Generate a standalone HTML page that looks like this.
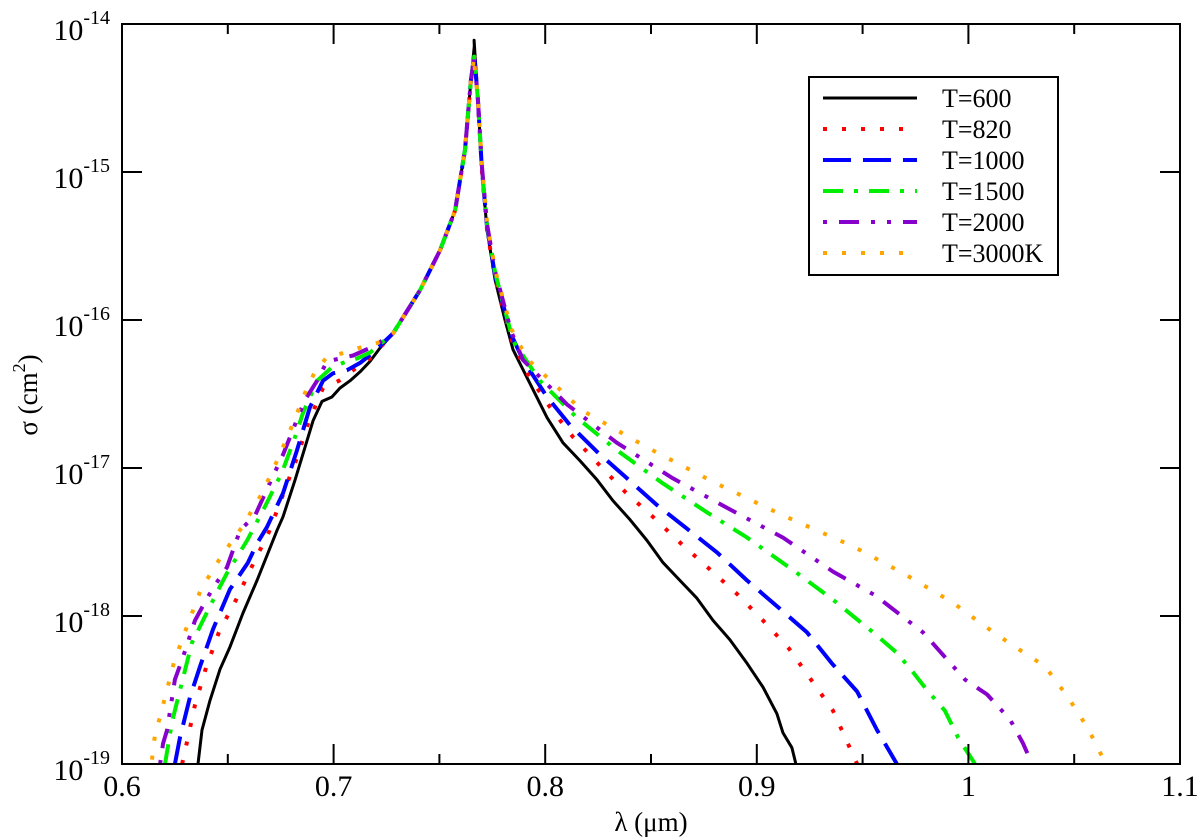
<!DOCTYPE html>
<html><head><meta charset="utf-8"><style>
html,body{margin:0;padding:0;background:#fff;}
svg{display:block;font-family:"Liberation Serif",serif;}
</style></head><body>
<svg id="chart" width="1200" height="839" viewBox="0 0 1200 839" xmlns="http://www.w3.org/2000/svg">
<g id="plot"></g>
</svg>
<script>
const xTicks=[0.6,0.7,0.8,0.9,1.0,1.1];
const xTickLabels=["0.6","0.7","0.8","0.9","1","1.1"];
const yExps=[-14,-15,-16,-17,-18,-19];
const shared=[[0.7281,-16.09],[0.7408,-15.80],[0.7503,-15.53],[0.7574,-15.26],[0.7621,-14.85],[0.7649,-14.38]];
const t600L=[[0.6359,-19.0],[0.6378,-18.77],[0.6416,-18.57],[0.6463,-18.36],[0.6510,-18.21],[0.6572,-17.98],[0.6638,-17.76],[0.6733,-17.42],[0.6761,-17.33],[0.6818,-17.08],[0.6865,-16.86],[0.6903,-16.68],[0.6945,-16.55],[0.6992,-16.52],[0.7030,-16.46],[0.7078,-16.41],[0.7125,-16.35],[0.7172,-16.28],[0.7219,-16.19]];
const t600R=[[0.7664,-14.11],[0.7682,-14.51],[0.7701,-14.99],[0.7725,-15.39],[0.7763,-15.73],[0.7810,-16.00],[0.7848,-16.20],[0.7928,-16.43],[0.8009,-16.66],[0.8084,-16.83],[0.8164,-16.95],[0.8245,-17.08],[0.8320,-17.22],[0.8401,-17.35],[0.8481,-17.49],[0.8557,-17.64],[0.8637,-17.76],[0.8717,-17.88],[0.8793,-18.03],[0.8873,-18.16],[0.8954,-18.32],[0.9029,-18.48],[0.9095,-18.66],[0.9124,-18.79],[0.9166,-18.89],[0.9185,-19.0]];
const t820L=[[0.6284,-19.0],[0.6307,-18.85],[0.6345,-18.60],[0.6397,-18.35],[0.6458,-18.11],[0.6539,-17.89],[0.6619,-17.65],[0.6695,-17.43],[0.6761,-17.18],[0.6827,-16.93],[0.6879,-16.70],[0.6950,-16.46],[0.7026,-16.41],[0.7101,-16.33],[0.7172,-16.26]];
const t820R=[[0.7664,-14.18],[0.7682,-14.51],[0.7701,-14.99],[0.7725,-15.39],[0.7763,-15.72],[0.7843,-16.14],[0.7919,-16.37],[0.8023,-16.59],[0.8131,-16.79],[0.8250,-16.97],[0.8377,-17.16],[0.8509,-17.33],[0.8642,-17.51],[0.8774,-17.68],[0.8906,-17.85],[0.9029,-18.03],[0.9152,-18.22],[0.9256,-18.43],[0.9360,-18.64],[0.9436,-18.88],[0.9474,-19.0]];
const t1000L=[[0.6250,-19.0],[0.6274,-18.82],[0.6321,-18.55],[0.6369,-18.34],[0.6430,-18.09],[0.6510,-17.82],[0.6595,-17.64],[0.6638,-17.51],[0.6685,-17.40],[0.6761,-17.17],[0.6827,-16.88],[0.6888,-16.59],[0.6950,-16.41],[0.6997,-16.36],[0.7063,-16.34],[0.7125,-16.29],[0.7186,-16.22]];
const t1000R=[[0.7664,-14.2],[0.7682,-14.51],[0.7701,-14.98],[0.7725,-15.37],[0.7763,-15.70],[0.7840,-16.10],[0.7895,-16.27],[0.8009,-16.52],[0.8117,-16.71],[0.8245,-16.89],[0.8387,-17.07],[0.8528,-17.25],[0.8670,-17.41],[0.8812,-17.57],[0.8954,-17.76],[0.9100,-17.94],[0.9237,-18.11],[0.9355,-18.32],[0.9474,-18.51],[0.9568,-18.77],[0.9662,-19.0]];
const t1500L=[[0.6203,-19.0],[0.6236,-18.72],[0.6274,-18.50],[0.6331,-18.18],[0.6383,-18.03],[0.6449,-17.84],[0.6496,-17.71],[0.6591,-17.49],[0.6676,-17.26],[0.6756,-17.03],[0.6818,-16.79],[0.6855,-16.63],[0.6922,-16.41],[0.6992,-16.32],[0.7044,-16.29],[0.7111,-16.26],[0.7172,-16.22]];
const t1500R=[[0.7664,-14.22],[0.7682,-14.51],[0.7701,-14.97],[0.7725,-15.36],[0.7763,-15.68],[0.7848,-16.14],[0.7975,-16.41],[0.8150,-16.66],[0.8339,-16.88],[0.8552,-17.10],[0.8765,-17.30],[0.8954,-17.47],[0.9171,-17.69],[0.9360,-17.89],[0.9549,-18.11],[0.9663,-18.25],[0.9738,-18.38],[0.9804,-18.50],[0.9889,-18.64],[0.9951,-18.82],[1.0031,-19.0]];
const t2000L=[[0.6180,-19.0],[0.6194,-18.86],[0.6213,-18.77],[0.6250,-18.43],[0.6288,-18.28],[0.6345,-18.03],[0.6402,-17.88],[0.6440,-17.79],[0.6496,-17.67],[0.6558,-17.42],[0.6629,-17.32],[0.6699,-17.10],[0.6761,-16.91],[0.6808,-16.74],[0.6865,-16.54],[0.6922,-16.41],[0.6969,-16.28],[0.7030,-16.26],[0.7092,-16.24],[0.7186,-16.18]];
const t2000R=[[0.7664,-14.22],[0.7682,-14.51],[0.7701,-14.96],[0.7725,-15.35],[0.7763,-15.67],[0.7840,-16.08],[0.7895,-16.27],[0.8103,-16.57],[0.8339,-16.83],[0.8604,-17.07],[0.8873,-17.28],[0.9124,-17.47],[0.9360,-17.70],[0.9559,-17.86],[0.9785,-18.11],[0.9984,-18.43],[1.0088,-18.53],[1.0197,-18.70],[1.0258,-18.86],[1.0301,-19.0]];
const t3000L=[[0.6142,-18.97],[0.6156,-18.80],[0.6180,-18.68],[0.6203,-18.55],[0.6246,-18.31],[0.6307,-18.07],[0.6373,-17.82],[0.6468,-17.60],[0.6567,-17.40],[0.6662,-17.17],[0.6737,-16.94],[0.6808,-16.70],[0.6874,-16.46],[0.6912,-16.35],[0.6969,-16.25],[0.7054,-16.22],[0.7139,-16.18],[0.7219,-16.15]];
const t3000R=[[0.7664,-14.25],[0.7682,-14.51],[0.7701,-14.95],[0.7725,-15.34],[0.7763,-15.66],[0.7840,-16.06],[0.7914,-16.26],[0.8174,-16.61],[0.8481,-16.86],[0.8802,-17.10],[0.9124,-17.32],[0.9455,-17.53],[0.9691,-17.71],[0.9927,-17.91],[1.0069,-18.06],[1.0211,-18.20],[1.0362,-18.34],[1.0471,-18.55],[1.0565,-18.76],[1.0650,-19.0]];
const seriesNames=["T=600","T=820","T=1000","T=1500","T=2000","T=3000K"];

const L=122,R=1180,T=24,B=764;
function xs(v){return L+(v-0.6)/0.5*(R-L);}
function ys(e){return T+(-14-e)/5*(B-T);}
const NS="http://www.w3.org/2000/svg";
const svg=document.getElementById('chart');
function mk(tag,attrs,parent){const el=document.createElementNS(NS,tag);for(const k in attrs)el.setAttribute(k,attrs[k]);(parent||svg).appendChild(el);return el;}

const styles=[
 {c:"#000",w:3,d:"none"},
 {c:"#ff0000",w:4,d:"4,15"},
 {c:"#0000ff",w:4,d:"28,12"},
 {c:"#00ee00",w:4,d:"20,11,4,11"},
 {c:"#8800cc",w:4,d:"4,12,20,12,4,12"},
 {c:"#ffa500",w:4,d:"4,15"}];
const data=[[t600L,t600R],[t820L,t820R],[t1000L,t1000R],[t1500L,t1500R],[t2000L,t2000R],[t3000L,t3000R]];
const clip=mk('clipPath',{id:'pc'});
mk('rect',{x:L,y:T,width:R-L,height:B-T},clip);
const gS=mk('g',{'clip-path':'url(#pc)'});


data.forEach((s,i)=>{
  const pts=s[0].concat(shared,[[0.7665,i===0?-14.15:-14.22]],s[1]);
  const d=pts.map((p,j)=>(j?'L':'M')+xs(p[0]).toFixed(1)+','+ys(p[1]).toFixed(1)).join(' ');
  const p=mk('path',{d:d,fill:'none',stroke:styles[i].c,'stroke-width':styles[i].w,'stroke-dasharray':styles[i].d,'stroke-linejoin':'round'},gS);
  
  
});

// frame
const fr=mk('rect',{x:L,y:T,width:R-L,height:B-T,fill:'none',stroke:'#000','stroke-width':2});


// x ticks
for(let k=0;k<=10;k++){
  const v=0.6+k*0.05,x=xs(v),len=(k%2===0)?20:10;
  mk('line',{x1:x,y1:B,x2:x,y2:B-len,stroke:'#000','stroke-width':2});
  mk('line',{x1:x,y1:T,x2:x,y2:T+len,stroke:'#000','stroke-width':2});
}
xTicks.forEach((v,i)=>{
  const t=mk('text',{x:xs(v),y:796,'font-size':30,'text-anchor':'middle'});
  t.textContent=xTickLabels[i];
  
  
});
// y ticks
yExps.forEach((e,i)=>{
  const y=ys(e);
  mk('line',{x1:L,y1:y,x2:L+20,y2:y,stroke:'#000','stroke-width':2});
  mk('line',{x1:R,y1:y,x2:R-20,y2:y,stroke:'#000','stroke-width':2});
  if(e>-14){for(let m=2;m<=9;m++){const yy=ys(e+Math.log10(m));
    mk('line',{x1:L,y1:yy,x2:L+10,y2:yy,stroke:'#000','stroke-width':2});
    mk('line',{x1:R,y1:yy,x2:R-10,y2:yy,stroke:'#000','stroke-width':2});}}
  const t=mk('text',{x:110,y:y+16,'font-size':30,'text-anchor':'end'});
  
  
  const a=mk('tspan',{},t);a.textContent='10';
  const b=mk('tspan',{dy:-16,'font-size':20},t);b.textContent=String(e);
});
// axis titles
const xt=mk('text',{x:651,y:831,'font-size':27,'text-anchor':'middle'});
xt.textContent='λ (μm)';


const yt=mk('text',{transform:'translate(37,395) rotate(-90)','font-size':27,'text-anchor':'middle'});


const y1=mk('tspan',{},yt);y1.textContent='σ (cm';
const y2=mk('tspan',{dy:-12,'font-size':18},yt);y2.textContent='2';
const y3=mk('tspan',{dy:12},yt);y3.textContent=')';
// legend
const lg=mk('g',{});


mk('rect',{x:809,y:77,width:249,height:198,fill:'#fff',stroke:'#000','stroke-width':2},lg);
seriesNames.forEach((n,i)=>{
  const y=98+i*31;
  const e=mk('g',{},lg);
  
  
  mk('line',{x1:823,y1:y,x2:917,y2:y,stroke:styles[i].c,'stroke-width':styles[i].w,'stroke-dasharray':styles[i].d},e);
  const t=mk('text',{x:942,y:y+9,'font-size':26},e);t.textContent=n;
});
</script>
</body></html>
